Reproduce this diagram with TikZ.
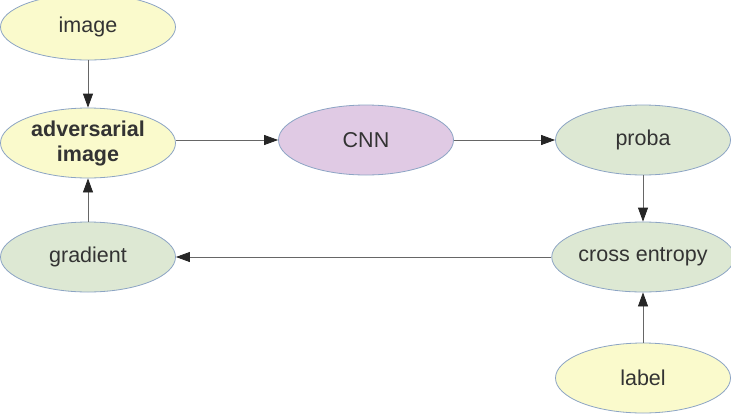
\documentclass[tikz,border=0pt]{standalone}
\usepackage{fontspec}
\setmainfont{Liberation Sans}
\usetikzlibrary{shapes.geometric,arrows.meta}
\definecolor{yel}{HTML}{FAFACC}
\definecolor{grn}{HTML}{DDE8D3}
\definecolor{pur}{HTML}{E0CAE4}
\definecolor{edge}{HTML}{8CA4C4}
\definecolor{txt}{HTML}{333333}
\definecolor{ln}{HTML}{666666}
\tikzset{
  ell/.style={ellipse, draw=edge, line width=0.8pt, minimum width=175pt, minimum height=70pt, inner sep=0pt,
    font=\fontsize{21.5}{25}\selectfont, text=txt, align=center},
  yelnode/.style={ell, fill=yel},
  grnnode/.style={ell, fill=grn},
  purnode/.style={ell, fill=pur},
  conn/.style={draw=ln, line width=0.8pt, -{Triangle[length=14pt,width=10pt,color=black!85]}}
}
\begin{document}
\begin{tikzpicture}[x=1pt,y=-1pt]
\useasboundingbox (0,0) rectangle (731,418);
\node[yelnode, minimum height=66pt] (img) at (88,27) {image};
\node[yelnode] (adv) at (88,143) {\textbf{adversarial}\\\textbf{image}};
\node[purnode] (cnn) at (366,140) {CNN};
\node[grnnode] (proba) at (643,140) {proba};
\node[grnnode] (ce) at (643,257) {cross entropy};
\node[yelnode] (lab) at (643,378) {label};
\node[grnnode] (grad) at (88,257) {gradient};
\draw[conn] (img) -- (adv);
\draw[conn] (adv.east |- cnn) -- (cnn);
\draw[conn] (cnn) -- (proba);
\draw[conn] (proba) -- (ce);
\draw[conn] (ce) -- (grad);
\draw[conn] (lab) -- (ce);
\draw[conn] (grad) -- (adv);
\end{tikzpicture}
\end{document}
